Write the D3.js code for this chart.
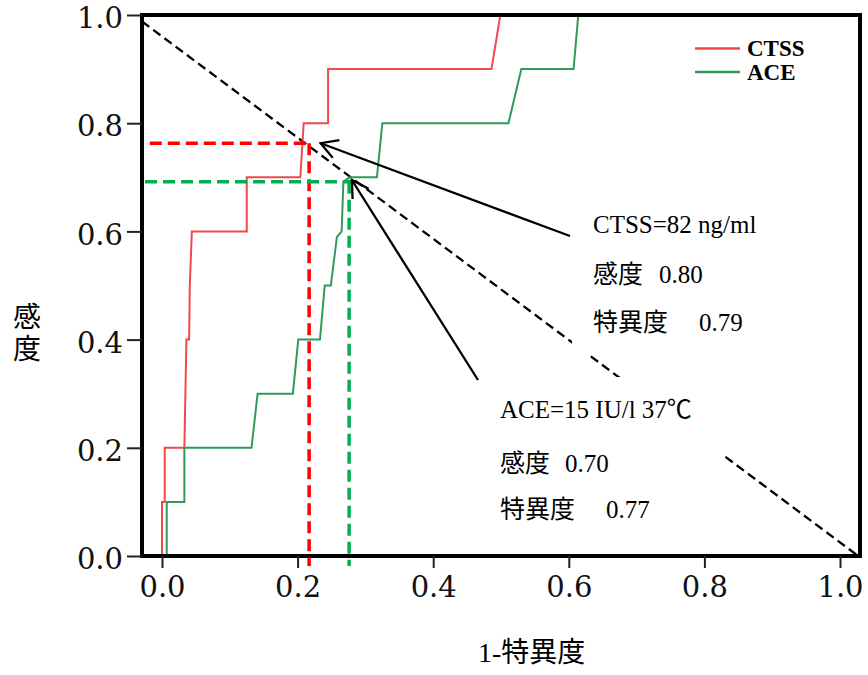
<!DOCTYPE html>
<html><head><meta charset="utf-8">
<script src="https://cdn.jsdelivr.net/npm/d3@7"></script>
<style>body{margin:0;background:#fff}svg{display:block}text{white-space:pre}</style>
</head><body>
<svg id="c" width="868" height="675"></svg>
<script>
// ---- data ----
const seriesNames = ["CTSS", "ACE"];
const ctssFpr  = [0, 0, 0.004, 0.004, 0.033, 0.036, 0.040, 0.041, 0.044, 0.125, 0.125, 0.204, 0.209, 0.245, 0.245, 0.486, 0.499, 1.0];
const ctssTpr  = [0, 0.1, 0.1, 0.2, 0.2, 0.4, 0.4, 0.5, 0.6, 0.6, 0.7, 0.7, 0.8, 0.8, 0.9, 0.9, 1.0, 1.0];
const aceFpr   = [0.007, 0.007, 0.033, 0.033, 0.132, 0.141, 0.193, 0.201, 0.233, 0.240, 0.249, 0.258, 0.265, 0.2675, 0.277, 0.317, 0.325, 0.511, 0.530, 0.607, 0.614, 1.0];
const aceTpr   = [0, 0.1, 0.1, 0.2, 0.2, 0.3, 0.3, 0.4, 0.4, 0.5, 0.5, 0.59, 0.6, 0.692, 0.70, 0.70, 0.8, 0.8, 0.9, 0.9, 1.0, 1.0];
const cutoffX  = [0.217, 0.276];   // 1-specificity at cut-off
const cutoffY  = [0.763, 0.692];   // sensitivity at cut-off
const refLineX = [-0.0295, 1.027];
const refLineY = [0.988, 0];
const xTicks = [0, 0.2, 0.4, 0.6, 0.8, 1.0];
const yTicks = [0, 0.2, 0.4, 0.6, 0.8, 1.0];
const annotations = [
  {title: "CTSS=82 ng/ml", sens: "0.80", spec: "0.79"},
  {title: "ACE=15 IU/l 37\u2103", sens: "0.70", spec: "0.77"}
];
const arrowTipX = [0.234, 0.280];
const arrowTipY = [0.763, 0.695];

// ---- layout ----
const svg = d3.select("#c");
const frame = {l: 142, r: 860, t: 15, b: 556};
const x = d3.scaleLinear().domain([0, 1]).range([162, 840]);
const y = d3.scaleLinear().domain([0, 1]).range([556, 15]);
const serif = "'Liberation Serif','Times New Roman',serif";
const cjk = "'Liberation Serif','Noto Sans CJK JP','Noto Sans CJK SC',serif";
const curveColors = ["#ef4a4a", "#2f9a5c"];
const cutColors = ["#ff0000", "#00b050"];

// reference diagonal
svg.append("line")
  .attr("x1", x(refLineX[0])).attr("y1", y(refLineY[0]))
  .attr("x2", x(refLineX[1])).attr("y2", y(refLineY[1]))
  .attr("stroke", "#000").attr("stroke-width", 2.3).attr("stroke-dasharray", "9,5");

// ROC curves
const line = d3.line().x(d => x(d[0])).y(d => y(d[1]));
const series = [d3.zip(ctssFpr, ctssTpr), d3.zip(aceFpr, aceTpr)];
series.forEach((s, i) => {
  svg.append("path").attr("d", line(s)).attr("fill", "none")
    .attr("stroke", curveColors[i]).attr("stroke-width", 2)
    .attr("stroke-linejoin", "miter");
});

// cut-off dashed guides
const hStart = [-0.018, -0.025];
const vEnd = -0.0185;
cutoffX.forEach((cx, i) => {
  svg.append("line").attr("x1", x(hStart[i])).attr("x2", x(cx) + 2)
    .attr("y1", y(cutoffY[i])).attr("y2", y(cutoffY[i]))
    .attr("stroke", cutColors[i]).attr("stroke-width", 3.5).attr("stroke-dasharray", "12,6");
  svg.append("line").attr("x1", x(cx)).attr("x2", x(cx))
    .attr("y1", y(cutoffY[i])).attr("y2", y(vEnd))
    .attr("stroke", cutColors[i]).attr("stroke-width", 3.5).attr("stroke-dasharray", "12,6");
});

// annotation boxes (white backgrounds) and text
const boxes = [
  {x0: 572, x1: 800, y0: 200, y1: 355, tx: 593, ty: 233, sx: 659, px: 699, lh: [50, 98]},
  {x0: 480, x1: 723, y0: 377, y1: 540, tx: 500, ty: 418, sx: 565, px: 606, lh: [54, 100]}
];
const arrowStart = [[570, 236], [478, 380]];
annotations.forEach((a, i) => {
  const b = boxes[i];
  svg.append("rect").attr("x", b.x0).attr("y", b.y0)
    .attr("width", b.x1 - b.x0).attr("height", b.y1 - b.y0).attr("fill", "#fff");
  const g = svg.append("g").attr("font-family", cjk).attr("font-size", 25).attr("fill", "#000");
  g.append("text").attr("x", b.tx).attr("y", b.ty).text(a.title);
  const t1 = g.append("text").attr("y", b.ty + b.lh[0]);
  t1.append("tspan").attr("x", b.tx).text("感度");
  t1.append("tspan").attr("x", b.sx).text(a.sens);
  const t2 = g.append("text").attr("y", b.ty + b.lh[1]);
  t2.append("tspan").attr("x", b.tx).text("特異度");
  t2.append("tspan").attr("x", b.px).text(a.spec);

  // arrow
  const tx = x(arrowTipX[i]), ty = y(arrowTipY[i]);
  const [sx, sy] = arrowStart[i];
  svg.append("line").attr("x1", sx).attr("y1", sy).attr("x2", tx).attr("y2", ty)
    .attr("stroke", "#000").attr("stroke-width", 2.3);
  const ang = Math.atan2(sy - ty, sx - tx);
  const L = 19, spread = Math.PI / 6;
  const p = [[tx + L * Math.cos(ang - spread), ty + L * Math.sin(ang - spread)],
             [tx, ty],
             [tx + L * Math.cos(ang + spread), ty + L * Math.sin(ang + spread)]];
  svg.append("path").attr("d", d3.line()(p)).attr("fill", "none")
    .attr("stroke", "#000").attr("stroke-width", 2.3);
});

// frame
svg.append("rect").attr("x", frame.l).attr("y", frame.t)
  .attr("width", frame.r - frame.l).attr("height", frame.b - frame.t)
  .attr("fill", "none").attr("stroke", "#000").attr("stroke-width", 4);

// axes
const fmt = d3.format(".1f");
const ya = svg.append("g").attr("transform", `translate(${frame.l},0)`)
  .call(d3.axisLeft(y).tickValues(yTicks).tickFormat(fmt).tickSize(15).tickPadding(4));
const xa = svg.append("g").attr("transform", `translate(0,${frame.b})`)
  .call(d3.axisBottom(x).tickValues(xTicks).tickFormat(fmt).tickSize(12).tickPadding(8));
[ya, xa].forEach(a => {
  a.select(".domain").remove();
  a.selectAll(".tick line").attr("stroke", "#222").attr("stroke-width", 2);
  a.selectAll(".tick text").attr("font-family", "'DejaVu Serif',serif")
    .attr("font-size", 29).attr("fill", "#111");
});
ya.selectAll(".tick text").attr("dy", "0.44em");

// legend
const lg = svg.append("g");
seriesNames.forEach((n, i) => {
  const ly = 48.5 + i * 23.5;
  lg.append("line").attr("x1", 695).attr("x2", 740).attr("y1", ly).attr("y2", ly)
    .attr("stroke", curveColors[i]).attr("stroke-width", 2.5);
  lg.append("text").attr("x", 747).attr("y", ly + 7.5)
    .attr("font-family", serif).attr("font-weight", "bold").attr("font-size", 23)
    .text(n);
});

// axis titles
const yTitle = "感度";
[...yTitle].forEach((ch, i) => {
  svg.append("text").attr("x", 27).attr("y", 327 + i * 32).attr("text-anchor", "middle")
    .attr("font-family", cjk).attr("font-size", 28).text(ch);
});
svg.append("text").attr("x", 478).attr("y", 662)
  .attr("font-family", cjk).attr("font-size", 28).text("1-特異度");
</script>
</body></html>
